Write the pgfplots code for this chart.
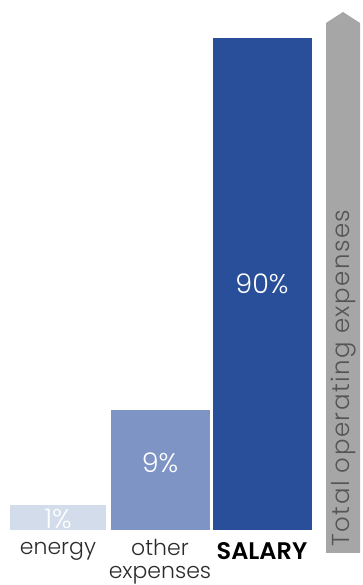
\documentclass[border=0pt]{standalone}
\usepackage{pgfplots}
\pgfplotsset{compat=1.18}
\usepackage{fontspec}
\setmainfont{Poppins}[UprightFont=* Light, BoldFont=* SemiBold]
\definecolor{cEnergy}{HTML}{D3DCEA}
\definecolor{cOther}{HTML}{7D94C5}
\definecolor{cSalary}{HTML}{294F9A}
\definecolor{cArrow}{HTML}{A6A6A6}
\definecolor{cText}{HTML}{2B2B2B}
\begin{document}
\begin{tikzpicture}[x=1pt,y=1pt]
\path (0,0) rectangle (362,585);
% arrow
\fill[cArrow] (326,32) -- (326,562) -- (343,573) -- (360,562) -- (360,32) -- cycle;
\node[rotate=90, text=cText!80!white, font=\fontsize{24.5}{26}\selectfont\addfontfeatures{LetterSpace=6}] at (344,207) {Total operating expenses};
\begin{axis}[
  at={(7pt,55pt)}, anchor=south west,
  scale only axis, width=306pt, height=492pt,
  axis lines=none,
  xmin=-0.5, xmax=2.5, ymin=0, ymax=492,
  clip=false,
]
\addplot[ybar, bar width=96pt, fill=cEnergy, draw=none] coordinates {(0,25)};
\addplot[ybar, bar width=99pt, fill=cOther, draw=none] coordinates {(1,120)};
\addplot[ybar, bar width=99pt, fill=cSalary, draw=none] coordinates {(2,492)};
\node[text=white, font=\fontsize{27}{29}\selectfont] at (axis cs:0,11) {1\%};
\node[text=white, font=\fontsize{27}{29}\selectfont] at (axis cs:1,67) {9\%};
\node[text=white, font=\fontsize{27}{29}\selectfont] at (axis cs:2,246) {90\%};
\node[text=cText, font=\fontsize{22}{24}\selectfont] at (axis cs:0,-21) {energy};
\node[text=cText, font=\fontsize{22}{24}\selectfont, align=center, inner sep=0pt] at (axis cs:1,-32) {other\\[-1pt]expenses};
\node[text=black, font=\fontsize{24}{26}\selectfont\bfseries] at (axis cs:2,-21) {SALARY};
\end{axis}
\end{tikzpicture}
\end{document}
